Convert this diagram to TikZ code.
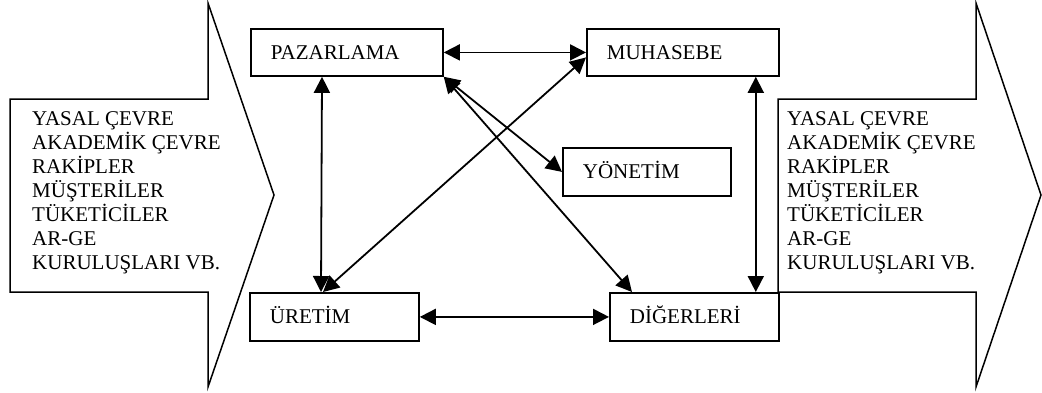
\documentclass[tikz,border=0pt]{standalone}
\usepackage{fontspec}
\setmainfont{Liberation Serif}
\usetikzlibrary{arrows.meta}
\tikzset{
  box/.style={draw, line width=1.8pt, anchor=north west, inner xsep=20pt, inner ysep=0pt,
    align=left, text height=14pt, text depth=0pt},
  dbl/.style={line width=1.8pt, {Triangle[length=16pt,width=16pt]}-{Triangle[length=16pt,width=16pt]}},
  bigarrow/.style={draw, line width=1.5pt, line join=miter},
  envtext/.style={anchor=north west, inner sep=0pt, align=left}
}
\begin{document}
\begin{tikzpicture}[x=1pt,y=-1pt,font=\fontsize{21}{24}\selectfont]
\useasboundingbox (0,0) rectangle (1042,392);
% big arrows
\draw[bigarrow] (10,99) -- (208,99) -- (208,3) -- (274,195) -- (208,387) -- (208,292) -- (10,292) -- cycle;
\draw[bigarrow] (778,99) -- (976,99) -- (976,3) -- (1041,195) -- (976,387) -- (976,292) -- (778,292) -- cycle;
\node[envtext] (envL) at (32,111) {YASAL ÇEVRE\\AKADEMİK ÇEVRE\\RAKİPLER\\MÜŞTERİLER\\TÜKETİCİLER\\AR-GE\\KURULUŞLARI VB.};
\node[envtext] (envR) at (787,111) {YASAL ÇEVRE\\AKADEMİK ÇEVRE\\RAKİPLER\\MÜŞTERİLER\\TÜKETİCİLER\\AR-GE\\KURULUŞLARI VB.};
% boxes
\node[box, text width=152pt, minimum height=47pt] (paz) at (250,28) {PAZARLAMA};
\node[box, text width=152pt, minimum height=47pt] (muh) at (586,28) {MUHASEBE};
\node[box, text width=128pt, minimum height=48pt] (yon) at (562,147) {YÖNETİM};
\node[box, text width=129pt, minimum height=48pt] (ure) at (249,292) {ÜRETİM};
\node[box, text width=129pt, minimum height=48pt] (dig) at (609,292) {DİĞERLERİ};
% connectors
\draw[dbl] (paz.east) -- (muh.west);
\draw[dbl] ([xshift=72pt]paz.south west) -- ([xshift=72pt]ure.north west);
\draw[dbl] ([xshift=-24pt]muh.south east) -- ([xshift=-24pt]dig.north east);
\draw[dbl] (ure.east) -- (dig.west);
\draw[dbl] ([yshift=-5pt]muh.west) -- ([xshift=74pt]ure.north west);
\draw[dbl] (paz.south east) -- (yon.west);
\draw[dbl] (paz.south east) -- ([xshift=23pt]dig.north west);
\end{tikzpicture}
\end{document}
